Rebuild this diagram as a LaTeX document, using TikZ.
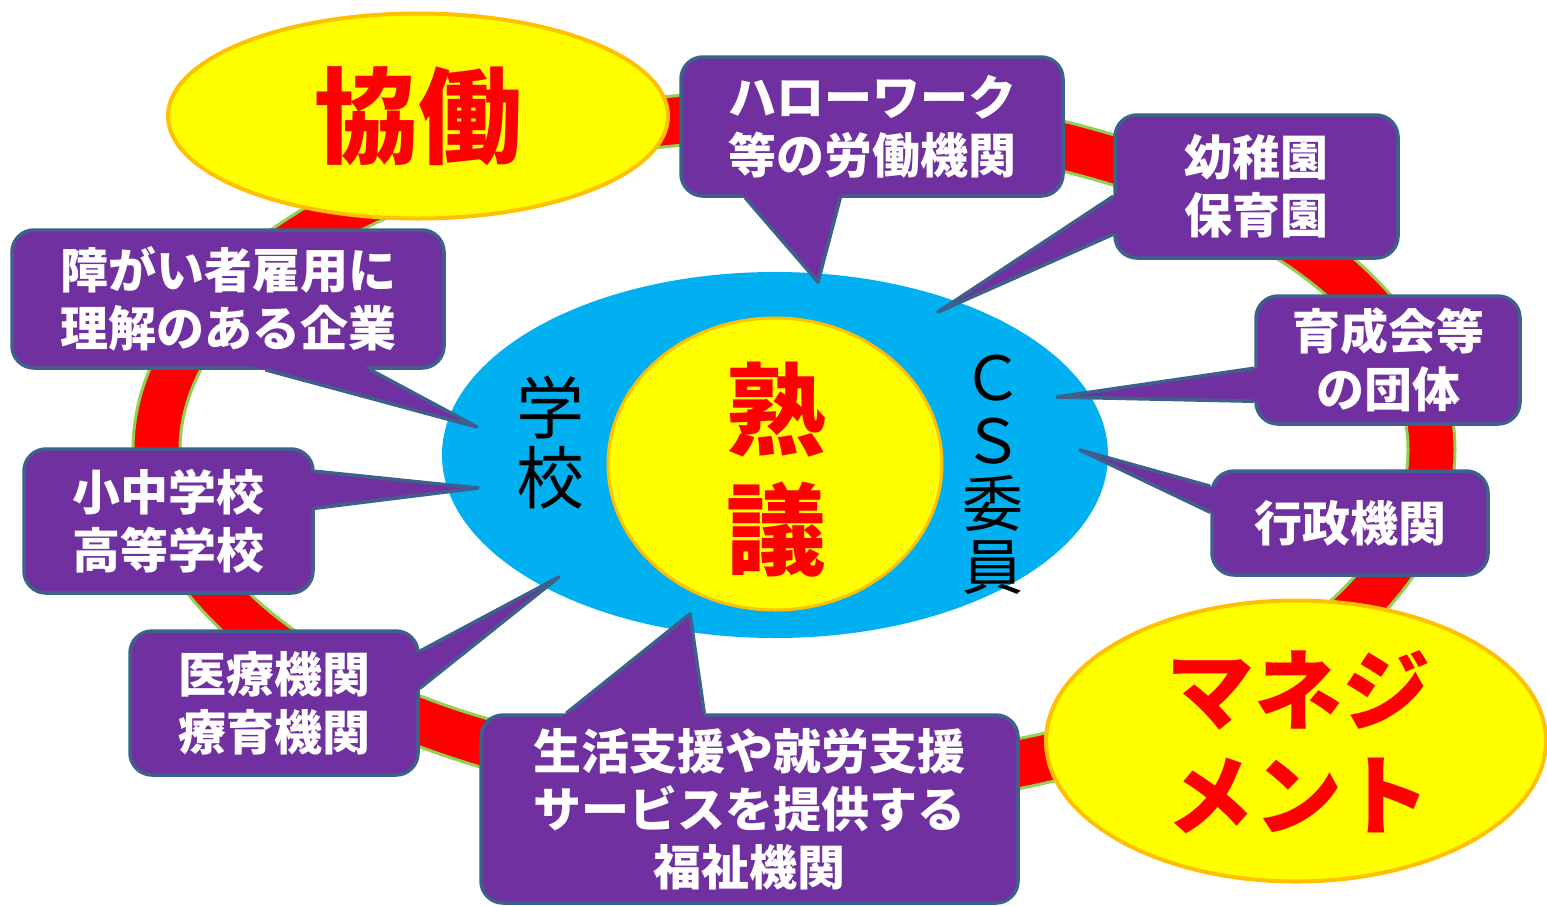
\documentclass[tikz,border=0pt]{standalone}
\usepackage{fontspec}
\newfontfamily\jp{Noto Sans CJK JP}
\usetikzlibrary{shapes.geometric,calc}
\definecolor{pur}{HTML}{7030A0}
\definecolor{bdc}{RGB}{62,96,140}
\definecolor{ylw}{HTML}{FFFF00}
\definecolor{org}{HTML}{FFC000}
\definecolor{sky}{HTML}{00B0F0}
\definecolor{grn}{HTML}{92D050}
\definecolor{rd}{HTML}{FF0000}
\tikzset{
  cbox/.style={rectangle, rounded corners=22pt, fill=pur, draw=bdc, line width=3.5pt,
    text=white, align=center, inner sep=0pt,
    font=\jp\bfseries\fontsize{48}{58}\selectfont},
  bd/.style={draw=bdc, line width=3.5pt, line join=round},
  yell/.style={ellipse, fill=ylw, draw=org, line width=4pt, inner sep=0pt},
  bigred/.style={text=rd, align=center, inner sep=0pt},
}
\newcommand\ptr[3]{%
  \fill[pur] ($(#1)!1.07!(#2)$) -- (#1) -- ($(#1)!1.07!(#3)$) -- cycle;
  \draw[bd] (#2) -- (#1) -- (#3);}
\begin{document}
\begin{tikzpicture}[x=1pt,y=-1pt]
\useasboundingbox (0,0) rectangle (1547,905);
% ring
\path[fill=rd, draw=grn, line width=3pt, even odd rule]
  (794,450) ellipse [x radius=661, y radius=360]
  (794,450) ellipse [x radius=614, y radius=310];
% centre
\node[ellipse, fill=sky, inner sep=0pt, minimum width=666pt, minimum height=366pt] (blue) at (775,455) {};
\node[ellipse, fill=ylw, draw=org, line width=3pt, inner sep=0pt, minimum width=334pt, minimum height=292pt] (core) at (775,464) {};
\node[bigred, font=\jp\bfseries\fontsize{100}{120}\selectfont] (jukugi) at (776,470) {熟\\議};
\node[align=center, inner sep=0pt, font=\jp\fontsize{68}{70}\selectfont] (gakko) at (550,443) {学\\校};
\node[align=center, inner sep=0pt, font=\jp\fontsize{61}{63}\selectfont] (cs) at (993,475) {Ｃ\\Ｓ\\委\\員};
% yellow ellipses
\node[yell, minimum width=500pt, minimum height=205pt] (kyodo) at (418,116) {};
\node[bigred, font=\jp\bfseries\fontsize{104}{104}\selectfont] at (kyodo.center) {協働};
\node[yell, minimum width=500pt, minimum height=281pt] (mane) at (1296,741) {};
\node[bigred, font=\jp\bfseries\fontsize{88}{105}\selectfont] at (1298,742) {マネジ\\メント};
% callouts
\node[cbox, minimum width=382pt, minimum height=139pt] (hw) at (872,126.5) {ハローワーク\\等の労働機関};
\coordinate (hwT) at (818,282);
\coordinate (hwA) at ($(hw.south west)+(66,0)$);
\coordinate (hwB) at ($(hw.south west)+(161,0)$);
\ptr{hwT}{hwA}{hwB}

\node[cbox, minimum width=283pt, minimum height=143pt] (kg) at (1256.5,186.5) {幼稚園\\保育園};
\coordinate (kgT) at (938,312);
\coordinate (kgA) at ($(kg.north west)+(0,83)$);
\coordinate (kgB) at ($(kg.north west)+(0,121)$);
\ptr{kgT}{kgA}{kgB}

\node[cbox, minimum width=264pt, minimum height=128pt] (ik) at (1388,360) {育成会等\\の団体};
\coordinate (ikT) at (1057,397);
\coordinate (ikA) at ($(ik.north west)+(0,74)$);
\coordinate (ikB) at ($(ik.north west)+(0,107)$);
\ptr{ikT}{ikA}{ikB}

\node[cbox, minimum width=276pt, minimum height=104pt] (gy) at (1350,523) {行政機関};
\coordinate (gyT) at (1080,450);
\coordinate (gyA) at ($(gy.north west)+(0,17)$);
\coordinate (gyB) at ($(gy.north west)+(0,43)$);
\ptr{gyT}{gyA}{gyB}

\node[cbox, minimum width=432pt, minimum height=138pt] (sy) at (228,299) {障がい者雇用に\\理解のある企業};
\coordinate (syT) at (477,427);
\coordinate (syA) at ($(sy.south west)+(255,0)$);
\coordinate (syB) at ($(sy.south west)+(360,0)$);
\ptr{syT}{syA}{syB}

\node[cbox, minimum width=289pt, minimum height=144pt] (sh) at (168.5,521) {小中学校\\高等学校};
\coordinate (shT) at (478,488);
\coordinate (shA) at ($(sh.north east)+(0,24)$);
\coordinate (shB) at ($(sh.north east)+(0,61)$);
\ptr{shT}{shA}{shB}

\node[cbox, minimum width=288pt, minimum height=144pt] (ir) at (274,703) {医療機関\\療育機関};
\coordinate (irT) at (559,577);
\coordinate (irA) at ($(ir.north east)+(0,22)$);
\coordinate (irB) at ($(ir.north east)+(0,59)$);
\ptr{irT}{irA}{irB}

\node[cbox, minimum width=537pt, minimum height=188pt] (fk) at (749.5,809) {生活支援や就労支援\\サービスを提供する\\福祉機関};
\coordinate (fkT) at (690,614);
\coordinate (fkA) at ($(fk.north west)+(87,0)$);
\coordinate (fkB) at ($(fk.north west)+(225,0)$);
\ptr{fkT}{fkA}{fkB}
\end{tikzpicture}
\end{document}
